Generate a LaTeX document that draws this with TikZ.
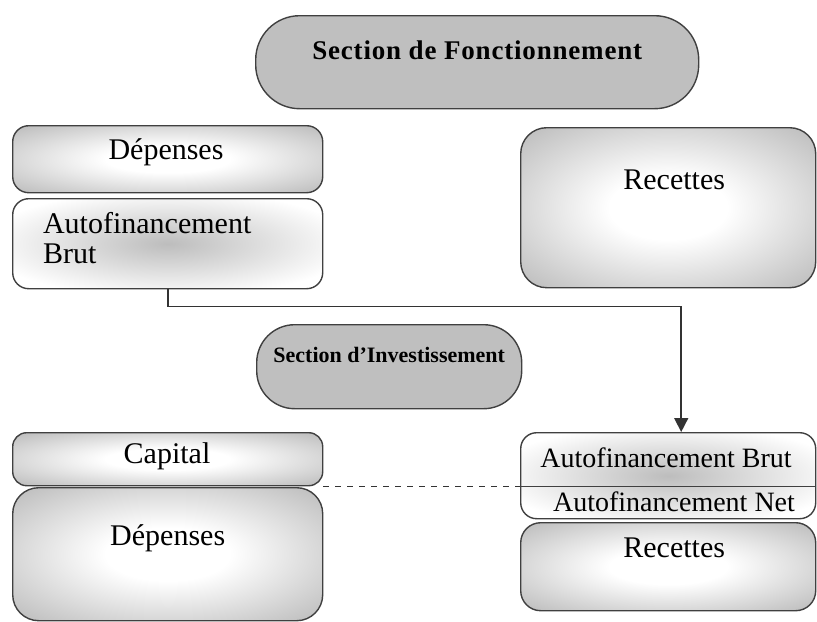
\documentclass[tikz,border=0pt]{standalone}
\usepackage{fontspec}
\setmainfont{Liberation Serif}
\newfontfamily\spacedserif[LetterSpace=3]{Liberation Serif}
\usetikzlibrary{arrows.meta,positioning}

% grey edges, white middle
\pgfdeclareradialshading{greybox}{\pgfpoint{0bp}{0bp}}{color(0bp)=(white); color(10bp)=(white); color(46bp)=(black!38); color(50bp)=(black!40)}
% white edges, grey smudge in the middle
\pgfdeclareradialshading{whitebox}{\pgfpoint{0bp}{0bp}}{color(0bp)=(black!26); color(30bp)=(white); color(50bp)=(white)}

\tikzset{
  box/.style={rectangle, draw=black!75, line width=0.7pt, inner sep=0pt, anchor=north west},
  greybox/.style={box, shading=greybox},
  whitebox/.style={box, shading=whitebox},
  sectionbox/.style={box, fill=black!25},
  txt/.style={anchor=center, font=\fontsize{15}{17}\selectfont},
  smalltxt/.style={anchor=center, font=\fontsize{14}{16}\selectfont},
}

\begin{document}
\begin{tikzpicture}[x=0.5pt, y=-0.5pt]
    \useasboundingbox (0,0) rectangle (817,621);
    % section de fonctionnement
    \node[sectionbox, minimum width=221.5pt, minimum height=46.5pt, rounded corners=22pt,
          label={[anchor=center, yshift=-17.5pt, font=\fontsize{13.5}{16}\spacedserif\bfseries]north:Section de Fonctionnement}] (secF) at (255,15) {};
    \node[greybox, minimum width=155pt, minimum height=33.5pt, rounded corners=8pt] (depF) at (12,125) {};
    \node[txt] (depFtxt) at (166,152) {Dépenses};
    \node[whitebox, minimum width=155pt, minimum height=45pt, rounded corners=8pt,
          label={[anchor=north west, xshift=12pt, yshift=-3.5pt, align=left, font=\fontsize{15}{15}\selectfont]north west:Autofinancement\\Brut}] (autoB) at (12,198) {};
    \node[greybox, minimum width=147.5pt, minimum height=80pt, rounded corners=13pt,
          label={[txt, xshift=3pt, yshift=-26.5pt]north:Recettes}] (recF) at (520,127) {};
    % section d'investissement
    \node[sectionbox, minimum width=132.5pt, minimum height=42pt, rounded corners=19pt,
          label={[anchor=center, yshift=-15.5pt, font=\fontsize{11}{13}\selectfont\bfseries]north:Section d’Investissement}] (secI) at (256,324) {};
    \node[greybox, minimum width=155pt, minimum height=26.5pt, rounded corners=7pt] (capI) at (12,432) {};
    \node[txt] (capItxt) at (167,456) {Capital};
    \node[greybox, minimum width=155pt, minimum height=66.5pt, rounded corners=13pt,
          label={[txt, yshift=-25.5pt]north:Dépenses}] (depI) at (12,487) {};
    \node[whitebox, minimum width=147.5pt, minimum height=43pt, rounded corners=8pt] (autoR) at (520,432) {};
    \node[smalltxt] (autoRbrut) at (666,458) {Autofinancement Brut};
    \node[smalltxt] (autoRnet) at (674,502) {Autofinancement Net};
    \node[greybox, minimum width=147.5pt, minimum height=44pt, rounded corners=10pt,
          label={[txt, xshift=3pt, yshift=-13pt]north:Recettes}] (recI) at (520,522) {};

    \draw[black!75, line width=0.7pt] (capI.south east -| autoR.west) -- (capI.south east -| autoR.east);
    \draw[black!80, line width=0.7pt, dashed] (capI.south east) -- (capI.south east -| autoR.west);
    \draw[black!80, line width=0.8pt, -{Triangle[width=7pt,length=7pt]}]
        (autoB.south) -- ++(0,17) -| ([xshift=6.5pt]autoR.north);
\end{tikzpicture}
\end{document}
